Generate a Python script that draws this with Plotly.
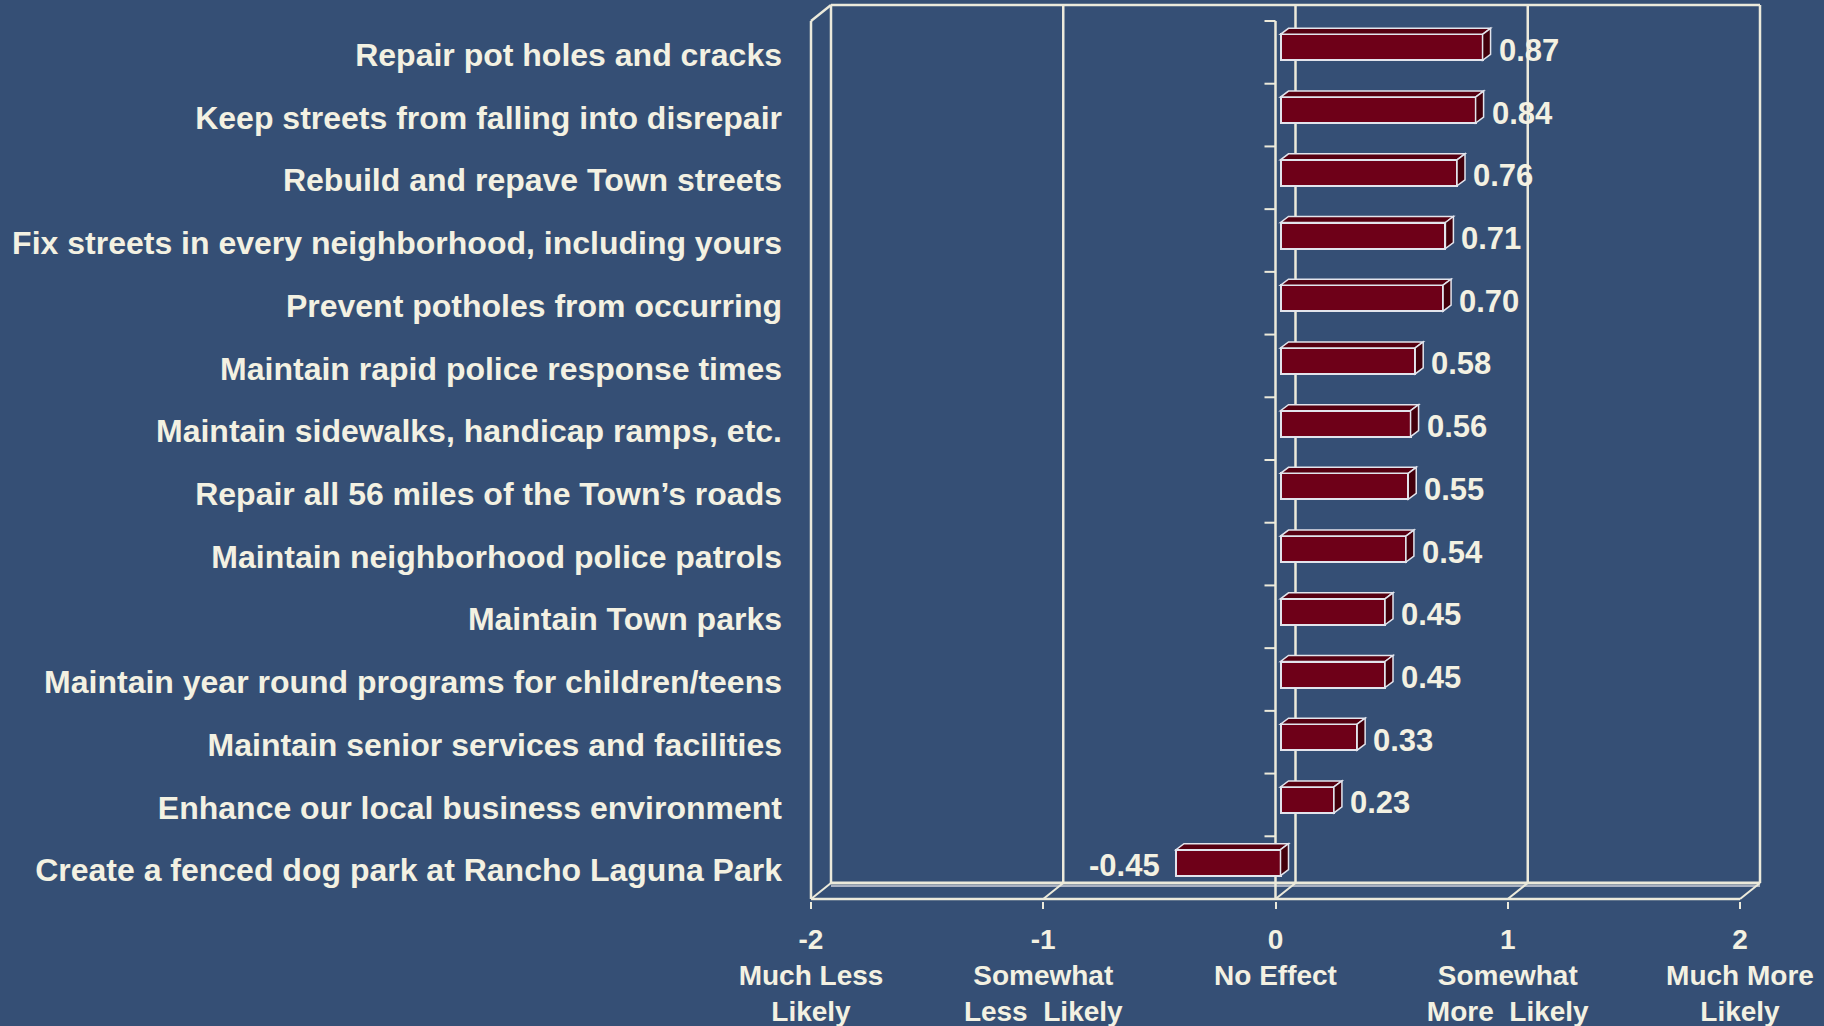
import plotly.graph_objects as go

# ---------------- data ----------------
categories = [
    "Repair pot holes and cracks",
    "Keep streets from falling into disrepair",
    "Rebuild and repave Town streets",
    "Fix streets in every neighborhood, including yours",
    "Prevent potholes from occurring",
    "Maintain rapid police response times",
    "Maintain sidewalks, handicap ramps, etc.",
    "Repair all 56 miles of the Town\u2019s roads",
    "Maintain neighborhood police patrols",
    "Maintain Town parks",
    "Maintain year round programs for children/teens",
    "Maintain senior services and facilities",
    "Enhance our local business environment",
    "Create a fenced dog park at Rancho Laguna Park",
]
values = [0.87, 0.84, 0.76, 0.71, 0.70, 0.58, 0.56, 0.55, 0.54, 0.45, 0.45, 0.33, 0.23, -0.45]
x_tick_vals = [-2, -1, 0, 1, 2]
x_tick_text = [
    "-2<br>Much Less<br>Likely",
    "-1<br>Somewhat<br>Less\u00a0 Likely",
    "0<br>No Effect",
    "1<br>Somewhat<br>More\u00a0 Likely",
    "2<br>Much More<br>Likely",
]

# ---------------- style / geometry ----------------
W, H = 1824, 1026
BG = "#354F75"
CREAM = "#F3F1E2"
LINE = "#ECEADB"
BAR_FRONT = "#6E0018"
BAR_TOP = "#560011"
BAR_SIDE = "#43000C"
BAR_EDGE = "#E2E4EC"
FONT = "Liberation Sans, Arial, sans-serif"

PLOT_L, PLOT_R, PLOT_T, PLOT_B = 795, 1785, 0, 901
FX0, FX1 = 811, 1740          # pixel of x=-2 and x=2 on the front plane
FY0, FY1 = 21, 899            # pixel of top / bottom slot boundary on the front plane
n = len(categories)
kx = (FX1 - FX0) / 4.0
ky = (FY1 - FY0) / float(n)
x_range = [-2 - (FX0 - PLOT_L) / kx, 2 + (PLOT_R - FX1) / kx]
y_range = [n - 0.5 + (PLOT_B - FY1) / ky, -0.5 - (FY0 - PLOT_T) / ky]

def px_x(p):
    return p / kx

def px_y(p):
    return p / ky

# back plane offset
dxb, dyb = px_x(20), px_y(-16)
# bar plane offset and bar depth
bxo, byo = px_x(5), px_y(-5)
ddx, ddy = px_x(8), px_y(-6)
bar_w = px_y(26)
label_dy = px_y(2.5)

ytop_b, ybot_b = -0.5, n - 0.5

shapes = []

def line(x0, y0, x1, y1, w=2.5, color=LINE, layer="below"):
    shapes.append(dict(type="line", x0=x0, y0=y0, x1=x1, y1=y1, xref="x", yref="y",
                       line=dict(color=color, width=w), layer=layer))

# back plane: left, top, right edges
line(-2 + dxb, ytop_b + dyb, -2 + dxb, ybot_b + dyb)
line(-2 + dxb, ytop_b + dyb, 2 + dxb, ytop_b + dyb)
line(2 + dxb, ytop_b + dyb, 2 + dxb, ybot_b + dyb)
# back gridlines
for t in [-1, 0, 1]:
    line(t + dxb, ytop_b + dyb, t + dxb, ybot_b + dyb)
# floor back edge (with thickness)
line(-2 + dxb, ybot_b + dyb + px_y(3), 2 + dxb, ybot_b + dyb + px_y(3), w=2, color="#A9B1C2")
line(-2 + dxb, ybot_b + dyb, 2 + dxb, ybot_b + dyb, w=3)
# front left edge and top-left diagonal
line(-2, ytop_b, -2, ybot_b)
line(-2, ytop_b, -2 + dxb, ytop_b + dyb)
# floor front edge and diagonals at ticks
line(-2, ybot_b, 2, ybot_b)
for t in x_tick_vals:
    line(t, ybot_b, t + dxb, ybot_b + dyb, w=2)
# category axis on front plane at x=0 with ticks
line(0, ytop_b, 0, ybot_b)
for b in range(n + 1):
    yb = b - 0.5
    line(-px_x(11), yb, 0, yb, w=2)

# 3D bar faces (top and side)
for i, v in enumerate(values):
    x0 = min(v, 0) + bxo
    x1 = max(v, 0) + bxo
    yt = i + byo - bar_w / 2
    yb = i + byo + bar_w / 2
    top = f"M {x0},{yt} L {x1},{yt} L {x1+ddx},{yt+ddy} L {x0+ddx},{yt+ddy} Z"
    side = f"M {x1},{yt} L {x1},{yb} L {x1+ddx},{yb+ddy} L {x1+ddx},{yt+ddy} Z"
    shapes.append(dict(type="path", path=top, xref="x", yref="y", fillcolor=BAR_TOP,
                       line=dict(color=BAR_EDGE, width=1.5), layer="above"))
    shapes.append(dict(type="path", path=side, xref="x", yref="y", fillcolor=BAR_SIDE,
                       line=dict(color=BAR_EDGE, width=1.5), layer="above"))

fig = go.Figure()
fig.add_trace(go.Bar(
    x=values, y=list(range(n)), orientation="h", base=bxo,
    width=bar_w, offset=byo - bar_w / 2,
    marker=dict(color=BAR_FRONT, line=dict(color=BAR_EDGE, width=2)),
    hoverinfo="skip", showlegend=False,
))

annotations = []
for i, v in enumerate(values):
    pos = v >= 0
    annotations.append(dict(x=v + bxo, y=i, xref="x", yref="y", text=f"{v:.2f}",
                            showarrow=False, xanchor="left" if pos else "right",
                            yanchor="middle", xshift=14 if pos else -14, yshift=2,
                            font=dict(family=FONT, size=31, color=CREAM, weight="bold")))

fig.update_layout(
    width=W, height=H, autosize=False,
    margin=dict(l=PLOT_L, r=W - PLOT_R, t=PLOT_T, b=H - PLOT_B, pad=0),
    paper_bgcolor=BG, plot_bgcolor="rgba(0,0,0,0)",
    shapes=shapes, annotations=annotations,
    bargap=0,
    xaxis=dict(range=x_range, showgrid=False, zeroline=False, showline=False,
               tickvals=x_tick_vals, ticktext=x_tick_text,
               ticks="outside", ticklen=7, tickwidth=2, tickcolor=LINE,
               ticklabelstandoff=6,
               tickfont=dict(family=FONT, size=28, color=CREAM, weight="bold"),
               fixedrange=True),
    yaxis=dict(range=y_range, showgrid=False, zeroline=False, showline=False,
               tickvals=[i + label_dy for i in range(n)], ticktext=categories, ticks="",
               ticklabelstandoff=12,
               tickfont=dict(family=FONT, size=32, color=CREAM, weight="bold"),
               fixedrange=True),
)

fig.write_html("out.html", config={"displayModeBar": False},
               post_script="document.body.style.margin='0';")
